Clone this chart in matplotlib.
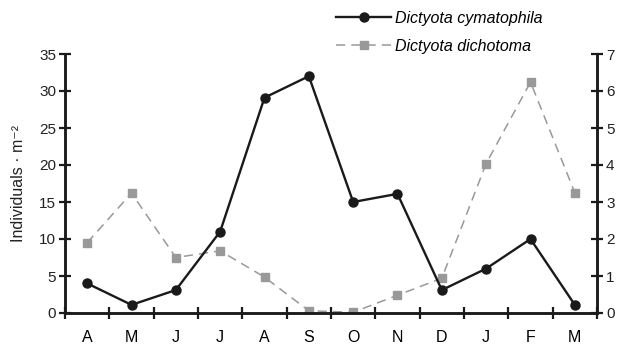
import matplotlib.pyplot as plt
import numpy as np

months = ['A', 'M', 'J', 'J', 'A', 'S', 'O', 'N', 'D', 'J', 'F', 'M']
cymatophila = [4.0, 1.1, 3.1, 11.0, 29.1, 32.0, 15.0, 16.1, 3.1, 6.0, 10.0, 1.1]
dichotoma = [1.9, 3.24, 1.5, 1.68, 0.97, 0.06, 0.02, 0.48, 0.94, 4.04, 6.24, 3.25]

plt.rcParams['font.family'] = ['Liberation Sans', 'DejaVu Sans']

fig = plt.figure(figsize=(6.17, 3.5), dpi=100)
ax1 = fig.add_axes([65/617, 1-313/350, (597-65)/617, (313-54)/350])
ax2 = ax1.twinx()

x = np.arange(len(months)) + 0.5

l1, = ax1.plot(x, cymatophila, color='#1a1a1a', lw=1.7, marker='o', ms=6.5,
               label='Dictyota cymatophila', zorder=3)
l2, = ax2.plot(x, dichotoma, color='#999999', lw=1.1, ls=(0, (6, 4)), marker='s', ms=6,
               label='Dictyota dichotoma', zorder=2)
ax1.set_zorder(ax2.get_zorder() + 1)
ax1.patch.set_visible(False)

ax1.set_xlim(0, 12)
ax1.set_ylim(0, 35)
ax2.set_ylim(0, 7)
ax1.set_yticks(np.arange(0, 36, 5))
ax2.set_yticks(np.arange(0, 8, 1))
ax1.set_xticks(np.arange(0, 13))
ax1.set_xticklabels([])
ax1.set_xticks(x, minor=True)
ax1.set_xticklabels(months, minor=True)

for axs in (ax1, ax2):
    axs.spines['top'].set_visible(False)
    for s in axs.spines.values():
        s.set_linewidth(1.8)
        s.set_color('#1a1a1a')
    axs.tick_params(which='major', direction='inout', length=9, width=1.6, color='#1a1a1a',
                    labelsize=11, labelcolor='#222222', pad=2)
ax1.tick_params(axis='x', which='minor', length=0, pad=12, labelsize=11.5)
ax1.tick_params(axis='x', which='major', pad=0)

ax1.set_ylabel('Individuals · m\u207b\u00b2', fontsize=11.5, color='#222222', labelpad=9)

fig.legend([l1, l2], ['Dictyota cymatophila', 'Dictyota dichotoma'],
           loc='upper left', bbox_to_anchor=(322/617, 1.01), frameon=False,
           prop={'style': 'italic', 'size': 11.5}, handlelength=3.4,
           handletextpad=0.3, labelspacing=0.8)

fig.savefig('out.png', dpi=100)
